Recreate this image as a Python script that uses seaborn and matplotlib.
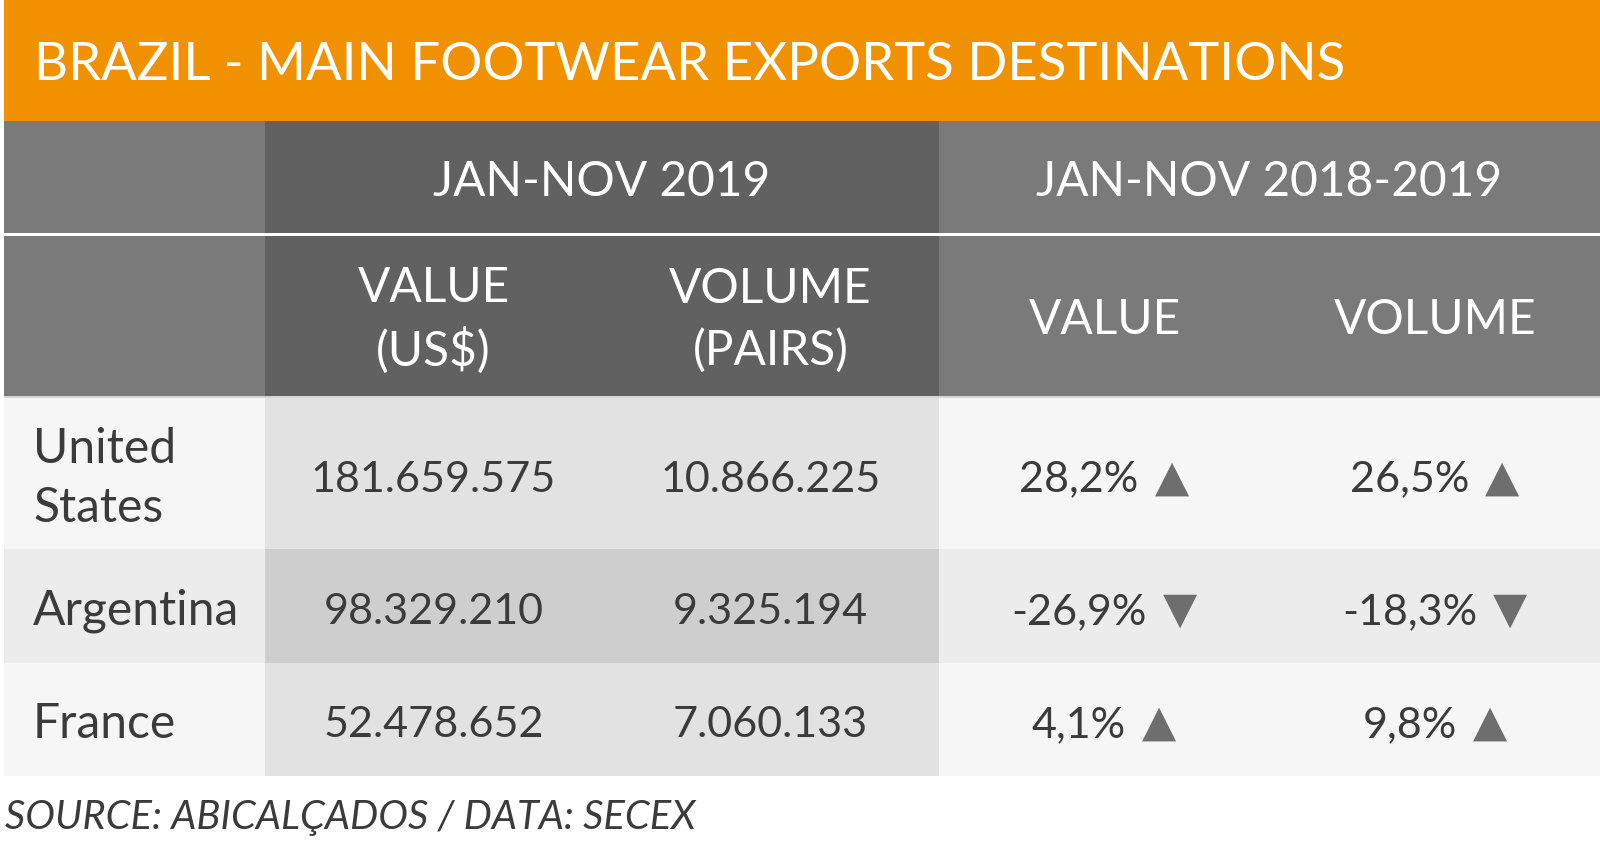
import numpy as np
import matplotlib
matplotlib.use("Agg")
import matplotlib.pyplot as plt
from matplotlib.colors import ListedColormap
from matplotlib.patches import Rectangle
import seaborn as sns

# ---------------- data ----------------
title = "BRAZIL - MAIN FOOTWEAR EXPORTS DESTINATIONS"
group_headers = ["JAN-NOV 2019", "JAN-NOV 2018-2019"]
sub_headers = ["VALUE\n(US$)", "VOLUME\n(PAIRS)", "VALUE", "VOLUME"]
countries = ["United\nStates", "Argentina", "France"]
value_usd = [181659575, 98329210, 52478652]
volume_pairs = [10866225, 9325194, 7060133]
value_change = [28.2, -26.9, 4.1]
volume_change = [26.5, -18.3, 9.8]
source = "SOURCE: ABICALÇADOS / DATA: SECEX"

# ---------------- style ----------------
sns.set_theme(style="white")
FONT = ["Lato", "DejaVu Sans"]
plt.rcParams["font.family"] = FONT

ORANGE = "#F29100"
HDR_LIGHT = "#7a7a7a"
HDR_DARK = "#616161"
TXT = "#3b3b3b"
TRI = "#6e6e6e"
shade_cmap = ListedColormap(["#f6f6f6", "#ececec", "#e2e2e2", "#cecece"])

W, H = 1600, 851
fig = plt.figure(figsize=(W / 100, H / 100), dpi=100)
fig.patch.set_facecolor("white")
renderer = fig.canvas.get_renderer()


def frect(x0, x1, y0, y1):
    return [x0 / W, 1 - y1 / H, (x1 - x0) / W, (y1 - y0) / H]


def fit_size(sample, target_w, **kw):
    """font size that gives `sample` a rendered width of target_w pixels"""
    t = fig.text(0, 0, sample, fontsize=40, **kw)
    w = t.get_window_extent(renderer).width
    t.remove()
    return 40 * target_w / w


# geometry (pixels)
X_LEFT, X_LBL, X_MID, X_RIGHT = 4, 265, 939, 1600
col_edges = [X_LBL, 602, X_MID, 1270, X_RIGHT]
Y_BODY0, Y_BODY1 = 398, 776
row_units = [4, 3, 3]

FS_TITLE = fit_size(title, 1311)
FS_HDR = fit_size(group_headers[1], 466)
FS_NUM = fit_size("181.659.575", 246)
FS_NAME = fit_size("Argentina", 206)
FS_SRC = fit_size(source, 689, style="italic")

# ---------------- body shading via seaborn heatmaps ----------------
row_shade_light = [0, 1, 0]
row_shade_dark = [2, 3, 2]


def shade_block(shades, ncols):
    rows = []
    for s, u in zip(shades, row_units):
        rows += [[s] * ncols] * u
    return np.array(rows)


blocks = [
    (X_LEFT, X_LBL, shade_block(row_shade_light, 1)),
    (X_LBL, X_MID, shade_block(row_shade_dark, 2)),
    (X_MID, X_RIGHT, shade_block(row_shade_light, 2)),
]
for x0, x1, mat in blocks:
    hax = fig.add_axes(frect(x0, x1, Y_BODY0, Y_BODY1))
    sns.heatmap(mat, ax=hax, cmap=shade_cmap, vmin=-0.5, vmax=3.5,
                cbar=False, linewidths=0, xticklabels=False, yticklabels=False)
    hax.set_axis_off()

# ---------------- overlay axes in pixel coordinates ----------------
ax = fig.add_axes([0, 0, 1, 1])
ax.set_xlim(0, W)
ax.set_ylim(H, 0)
ax.set_axis_off()
ax.set_zorder(5)
ax.patch.set_alpha(0)

# title band
ax.add_patch(Rectangle((X_LEFT, 0), X_RIGHT - X_LEFT, 121, color=ORANGE, lw=0))
ax.text(34, 65, title, color="white", fontsize=FS_TITLE, va="center", ha="left")

# header rows
for (y0, y1) in [(121, 233), (236, 396)]:
    ax.add_patch(Rectangle((X_LEFT, y0), X_LBL - X_LEFT, y1 - y0, color=HDR_LIGHT, lw=0))
    ax.add_patch(Rectangle((X_LBL, y0), X_MID - X_LBL, y1 - y0, color=HDR_DARK, lw=0))
    ax.add_patch(Rectangle((X_MID, y0), X_RIGHT - X_MID, y1 - y0, color=HDR_LIGHT, lw=0))
ax.add_patch(Rectangle((X_LEFT, 396), X_RIGHT - X_LEFT, 2, color="#d4d4d4", lw=0))

ax.text((X_LBL + X_MID) / 2, 182, group_headers[0], color="white", fontsize=FS_HDR,
        ha="center", va="center")
ax.text((X_MID + X_RIGHT) / 2, 182, group_headers[1], color="white", fontsize=FS_HDR,
        ha="center", va="center")
for i, lab in enumerate(sub_headers):
    cx = (col_edges[i] + col_edges[i + 1]) / 2
    ax.text(cx, 320, lab, color="white", fontsize=FS_HDR, ha="center", va="center",
            linespacing=1.45, multialignment="center")

# body rows
bounds = np.cumsum([0] + row_units) / sum(row_units) * (Y_BODY1 - Y_BODY0) + Y_BODY0


def fmt_int(v):
    return f"{v:,}".replace(",", ".")


def fmt_pct(v):
    return f"{v:.1f}".replace(".", ",") + "%"


for r, name in enumerate(countries):
    cy = (bounds[r] + bounds[r + 1]) / 2 + 6
    ax.text(33, cy - 1, name, color=TXT, fontsize=FS_NAME, ha="left", va="center",
            linespacing=1.42)
    ax.text((col_edges[0] + col_edges[1]) / 2, cy, fmt_int(value_usd[r]),
            color=TXT, fontsize=FS_NUM, ha="center", va="center")
    ax.text((col_edges[1] + col_edges[2]) / 2, cy, fmt_int(volume_pairs[r]),
            color=TXT, fontsize=FS_NUM, ha="center", va="center")
    for c, vals in ((2, value_change), (3, volume_change)):
        v = vals[r]
        cx = (col_edges[c] + col_edges[c + 1]) / 2
        t = ax.text(0, cy, fmt_pct(v), color=TXT, fontsize=FS_NUM, ha="right", va="center")
        wtxt = t.get_window_extent(renderer).width
        gap, tri_w = 16, 35
        right = cx - (gap + tri_w - wtxt) / 2
        t.set_x(right)
        ax.text(right + gap, cy - 2, "▲" if v > 0 else "▼", color=TRI,
                fontsize=32, ha="left", va="center", family=["DejaVu Sans"])

# source
ax.text(5, 817, source, color=TXT, fontsize=FS_SRC, ha="left", va="center",
        style="italic")

fig.savefig("out.png", dpi=100, facecolor="white")
